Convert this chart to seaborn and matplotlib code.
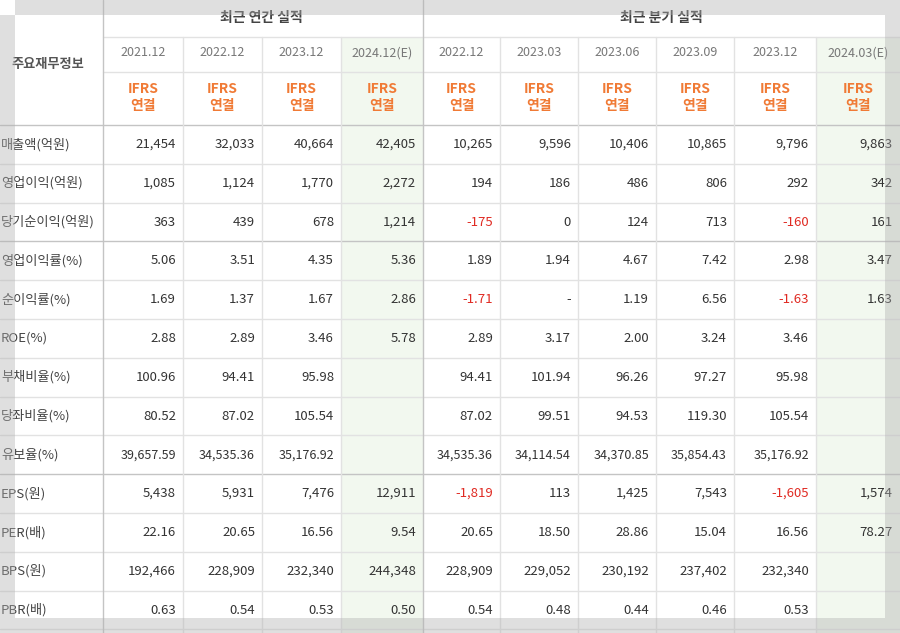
import matplotlib.pyplot as plt
import seaborn as sns
from matplotlib.patches import Rectangle

sns.set_theme(style="white")
plt.rcParams["font.family"] = ["Noto Sans CJK KR", "Noto Sans CJK JP", "Noto Sans CJK SC", "DejaVu Sans"]

groups = ["최근 연간 실적", "최근 분기 실적"]
periods = ["2021.12", "2022.12", "2023.12", "2024.12(E)",
           "2022.12", "2023.03", "2023.06", "2023.09", "2023.12", "2024.03(E)"]
row_labels = ["매출액(억원)", "영업이익(억원)", "당기순이익(억원)", "영업이익률(%)", "순이익률(%)",
              "ROE(%)", "부채비율(%)", "당좌비율(%)", "유보율(%)", "EPS(원)", "PER(배)",
              "BPS(원)", "PBR(배)"]
values = [
    ["21,454", "32,033", "40,664", "42,405", "10,265", "9,596", "10,406", "10,865", "9,796", "9,863"],
    ["1,085", "1,124", "1,770", "2,272", "194", "186", "486", "806", "292", "342"],
    ["363", "439", "678", "1,214", "-175", "0", "124", "713", "-160", "161"],
    ["5.06", "3.51", "4.35", "5.36", "1.89", "1.94", "4.67", "7.42", "2.98", "3.47"],
    ["1.69", "1.37", "1.67", "2.86", "-1.71", "-", "1.19", "6.56", "-1.63", "1.63"],
    ["2.88", "2.89", "3.46", "5.78", "2.89", "3.17", "2.00", "3.24", "3.46", ""],
    ["100.96", "94.41", "95.98", "", "94.41", "101.94", "96.26", "97.27", "95.98", ""],
    ["80.52", "87.02", "105.54", "", "87.02", "99.51", "94.53", "119.30", "105.54", ""],
    ["39,657.59", "34,535.36", "35,176.92", "", "34,535.36", "34,114.54", "34,370.85", "35,854.43", "35,176.92", ""],
    ["5,438", "5,931", "7,476", "12,911", "-1,819", "113", "1,425", "7,543", "-1,605", "1,574"],
    ["22.16", "20.65", "16.56", "9.54", "20.65", "18.50", "28.86", "15.04", "16.56", "78.27"],
    ["192,466", "228,909", "232,340", "244,348", "228,909", "229,052", "230,192", "237,402", "232,340", ""],
    ["0.63", "0.54", "0.53", "0.50", "0.54", "0.48", "0.44", "0.46", "0.53", ""],
]

col_edges = [103, 183, 262, 341, 423, 500, 578, 656, 734, 816, 900]
row_top = 125
row_h = 38.8

fig = plt.figure(figsize=(9, 6.33), dpi=100)
ax = fig.add_axes([0, 0, 1, 1])
ax.set_xlim(0, 900)
ax.set_ylim(633, 0)
ax.axis("off")

# estimate columns shading
for c in (3, 9):
    ax.add_patch(Rectangle((col_edges[c], 37), col_edges[c + 1] - col_edges[c], 633 - 37,
                           color="#f2f8ef", lw=0, zorder=0))

line = "#e2e2e2"
dark = "#c4c4c4"
ax.plot([103, 900], [37, 37], color=line, lw=1)
ax.plot([103, 900], [72, 72], color=line, lw=1)
ax.plot([0, 900], [row_top, row_top], color=dark, lw=1)
for i in range(1, len(row_labels) + 1):
    y = row_top + i * row_h
    ax.plot([0, 900], [y, y], color=dark if i in (3, 9) else line, lw=1)
for i, x in enumerate(col_edges[:-1]):
    top = 0 if i in (0, 4) else 37
    ax.plot([x, x], [top, 633], color=dark if i in (0, 4) else line, lw=1)

# headers
ax.text(261, 18, groups[0], ha="center", va="center", fontsize=10, fontweight="bold", color="#444444")
ax.text(661, 18, groups[1], ha="center", va="center", fontsize=10, fontweight="bold", color="#444444")
ax.text(48, 64, "주요재무정보", ha="center", va="center", fontsize=9.5, fontweight="bold", color="#555555")
for c, p in enumerate(periods):
    cx = (col_edges[c] + col_edges[c + 1]) / 2
    ax.text(cx, 53, p, ha="center", va="center", fontsize=9, color="#777777")
    ax.text(cx, 89, "IFRS", ha="center", va="center", fontsize=10, fontweight="bold", color="#f07a35")
    ax.text(cx, 106, "연결", ha="center", va="center", fontsize=10, fontweight="bold", color="#f07a35")

# body
for r, lab in enumerate(row_labels):
    cy = row_top + (r + 0.5) * row_h
    ax.text(1, cy, lab, ha="left", va="center", fontsize=9.5, color="#444444")
    for c, v in enumerate(values[r]):
        col = "#e02a22" if v.startswith("-") and v != "-" else "#333333"
        size = 9 if len(v) > 7 else 9.5
        ax.text(col_edges[c + 1] - 7, cy, v, ha="right", va="center", fontsize=size, color=col)

# gray screenshot frame
g = dict(color="#b0b0b0", alpha=0.4, lw=0, zorder=5)
ax.add_patch(Rectangle((15, 0), 885, 15, **g))
ax.add_patch(Rectangle((0, 15), 15, 618, **g))
ax.add_patch(Rectangle((15, 618), 885, 15, **g))
ax.add_patch(Rectangle((885, 15), 15, 603, **g))

fig.savefig("out.png", dpi=100)
